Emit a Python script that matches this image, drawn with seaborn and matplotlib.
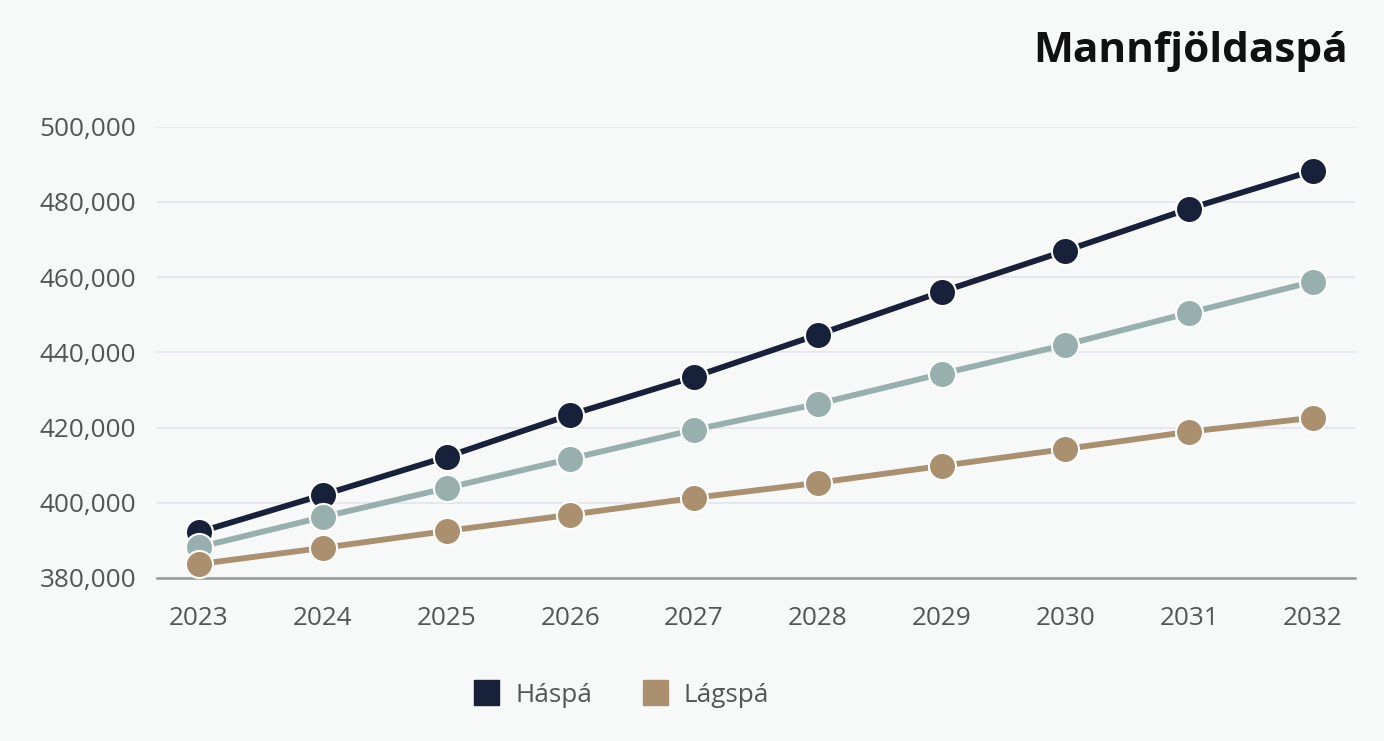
import numpy as np
import pandas as pd
import matplotlib
matplotlib.use("Agg")
import matplotlib.pyplot as plt
from matplotlib.lines import Line2D
from matplotlib.ticker import FuncFormatter
import seaborn as sns

years = [2023, 2024, 2025, 2026, 2027, 2028, 2029, 2030, 2031, 2032]
haspa = [392200, 402100, 412200, 423400, 433500, 444700, 456100, 467000, 478200, 488300]
midspa = [388200, 396200, 403900, 411700, 419400, 426300, 434300, 442000, 450500, 458800]
lagspa = [383700, 388000, 392500, 396800, 401300, 405300, 409800, 414300, 418900, 422600]
series_names = ["Háspá", "Miðspá", "Lágspá"]
colors = {"Háspá": "#18213a", "Miðspá": "#97b0ae", "Lágspá": "#ab9070"}

df = pd.DataFrame({"ár": years * 3,
                   "fjöldi": haspa + midspa + lagspa,
                   "spá": np.repeat(series_names, len(years))})

sns.set_style("white")
plt.rcParams["font.family"] = ["Open Sans", "DejaVu Sans"]

bg = "#f7f8f8"
fig = plt.figure(figsize=(13.84, 7.41), dpi=100, facecolor=bg)
ax = fig.add_axes([0.1134, 0.22, 0.8656, 0.609])
ax.set_facecolor(bg)

sns.lineplot(data=df, x="ár", y="fjöldi", hue="spá", palette=colors,
             hue_order=series_names, marker="o", markersize=19.5,
             markeredgecolor="white", markeredgewidth=1.5, linewidth=4.2,
             legend=False, ax=ax, clip_on=False, zorder=3)

ax.set_ylim(380000, 500000)
ax.set_xlim(2023 - 0.34, 2032 + 0.34)
ax.set_yticks(range(380000, 500001, 20000))
ax.set_xticks(years)
ax.yaxis.set_major_formatter(FuncFormatter(lambda v, p: f"{int(v):,}"))
ax.grid(axis="y", color="#e3e3ec", linewidth=1.2)
ax.set_axisbelow(True)
for s in ["top", "right", "left"]:
    ax.spines[s].set_visible(False)
ax.spines["bottom"].set_color("#999999")
ax.spines["bottom"].set_linewidth(1.8)
ax.tick_params(axis="both", length=0, labelsize=18.8, labelcolor="#555555")
ax.tick_params(axis="y", pad=15)
ax.tick_params(axis="x", pad=20)
ax.set_xlabel("")
ax.set_ylabel("")

fig.text(0.974, 0.93, "Mannfjöldaspá", ha="right", va="center",
         fontsize=30.5, fontweight="bold", color="#111111")

handles = [Line2D([], [], marker="s", linestyle="none", markersize=18,
                  markerfacecolor=colors[n], markeredgecolor=colors[n])
           for n in ["Háspá", "Lágspá"]]
fig.legend(handles, ["Háspá", "Lágspá"], loc="center", bbox_to_anchor=(0.444, 0.062),
           ncol=2, frameon=False, fontsize=18.8, labelcolor="#555555",
           handletextpad=0.1, columnspacing=1.4)

fig.savefig("out.png", dpi=100, facecolor=bg)
